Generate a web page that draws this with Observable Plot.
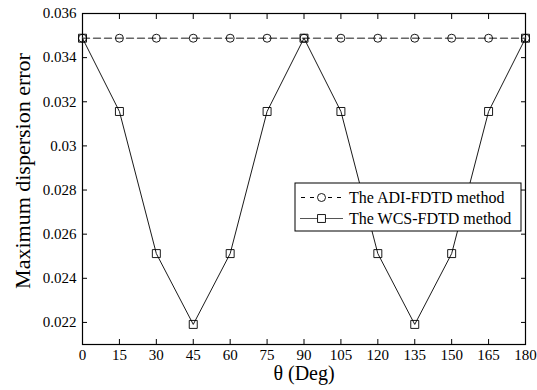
<!DOCTYPE html>
<html>
<head>
<meta charset="utf-8">
<script src="https://cdn.jsdelivr.net/npm/d3@7"></script>
<script src="https://cdn.jsdelivr.net/npm/@observablehq/plot@0.6"></script>
<style>
  html, body { margin: 0; padding: 0; background: #fff; }
  #chart { position: relative; width: 537px; height: 390px; }
</style>
</head>
<body>
<div id="chart"></div>
<script>
const angles = [0, 15, 30, 45, 60, 75, 90, 105, 120, 135, 150, 165, 180];
const adiValues = [0.03488, 0.03488, 0.03488, 0.03488, 0.03488, 0.03488, 0.03488, 0.03488, 0.03488, 0.03488, 0.03488, 0.03488, 0.03488];
const wcsValues = [0.03488, 0.03156, 0.02512, 0.02191, 0.02512, 0.03156, 0.03488, 0.03156, 0.02512, 0.02191, 0.02512, 0.03156, 0.03488];
const xTicks = [0, 15, 30, 45, 60, 75, 90, 105, 120, 135, 150, 165, 180];
const yTicks = [0.022, 0.024, 0.026, 0.028, 0.030, 0.032, 0.034, 0.036];
const seriesNames = ["The ADI-FDTD method", "The WCS-FDTD method"];
const xLabel = "θ (Deg)";
const yLabel = "Maximum dispersion error";

const adi = angles.map((a, i) => ({a, v: adiValues[i]}));
const wcs = angles.map((a, i) => ({a, v: wcsValues[i]}));
const yFmt = d => String(+d.toFixed(3));
const font = "'Liberation Serif', 'Times New Roman', Times, serif";

const plot = Plot.plot({
  width: 537,
  height: 390,
  marginLeft: 82,
  marginRight: 12,
  marginTop: 13,
  marginBottom: 46,
  style: {fontFamily: font, fontSize: "15px", background: "#fff", color: "#000"},
  x: {domain: [0, 180]},
  y: {domain: [0.021, 0.036]},
  marks: [
    Plot.frame({stroke: "#000", strokeWidth: 1.2}),
    Plot.axisX(xTicks, {anchor: "bottom", tickSize: -5, tickPadding: 10, label: null, fontSize: 15}),
    Plot.axisX(xTicks, {anchor: "top", tickSize: -5, tickFormat: () => "", label: null}),
    Plot.axisY(yTicks, {anchor: "left", tickSize: -5, tickPadding: 11, tickFormat: yFmt, label: null, fontSize: 15}),
    Plot.axisY(yTicks, {anchor: "right", tickSize: -5, tickFormat: () => "", label: null}),
    Plot.line(adi, {x: "a", y: "v", stroke: "#666", strokeWidth: 1.4, strokeDasharray: "7,4"}),
    Plot.line(wcs, {x: "a", y: "v", stroke: "#000", strokeWidth: 0.9}),
    Plot.dot(adi, {x: "a", y: "v", symbol: "circle", r: 4, stroke: "#000", fill: "none", strokeWidth: 0.9}),
    Plot.dot(wcs, {x: "a", y: "v", symbol: "square", r: 4.5, stroke: "#000", fill: "none", strokeWidth: 0.9}),
    Plot.text([xLabel], {frameAnchor: "bottom", textAnchor: "middle", lineAnchor: "middle", dy: 29, fontSize: 20, fill: "#000"}),
    Plot.text([yLabel], {frameAnchor: "left", textAnchor: "middle", lineAnchor: "middle", dx: -60, dy: -8, rotate: -90, fontSize: 22, fill: "#000"})
  ]
});
document.getElementById("chart").appendChild(plot);

// Legend (inside plot area, drawn in the same SVG)
const svg = d3.select(plot);
const lg = svg.append("g").attr("font-family", font).attr("font-size", 16).attr("text-anchor", "start");
lg.append("rect").attr("x", 295).attr("y", 183).attr("width", 226).attr("height", 48)
  .attr("fill", "#fff").attr("stroke", "#000").attr("stroke-width", 1);
const rows = [
  {name: seriesNames[0], dash: "4,5", color: "#000", sym: d3.symbolCircle, size: Math.PI * 16},
  {name: seriesNames[1], dash: null, color: "#555", sym: d3.symbolSquare, size: Math.PI * 20}
];
rows.forEach((r, i) => {
  const cy = 197.5 + i * 21;
  const l = lg.append("line").attr("x1", 300).attr("x2", 343).attr("y1", cy).attr("y2", cy)
    .attr("stroke", r.color).attr("stroke-width", 1);
  if (r.dash) l.attr("stroke-dasharray", r.dash).attr("stroke-dashoffset", -1);
  lg.append("path").attr("d", d3.symbol(r.sym, r.size)()).attr("transform", `translate(321.5,${cy})`)
    .attr("fill", "#fff").attr("stroke", "#000").attr("stroke-width", 0.9);
  lg.append("text").attr("x", 349).attr("y", cy).attr("dy", "0.35em").attr("fill", "#000")
    .attr("text-anchor", "start").text(r.name);
});
</script>
</body>
</html>
